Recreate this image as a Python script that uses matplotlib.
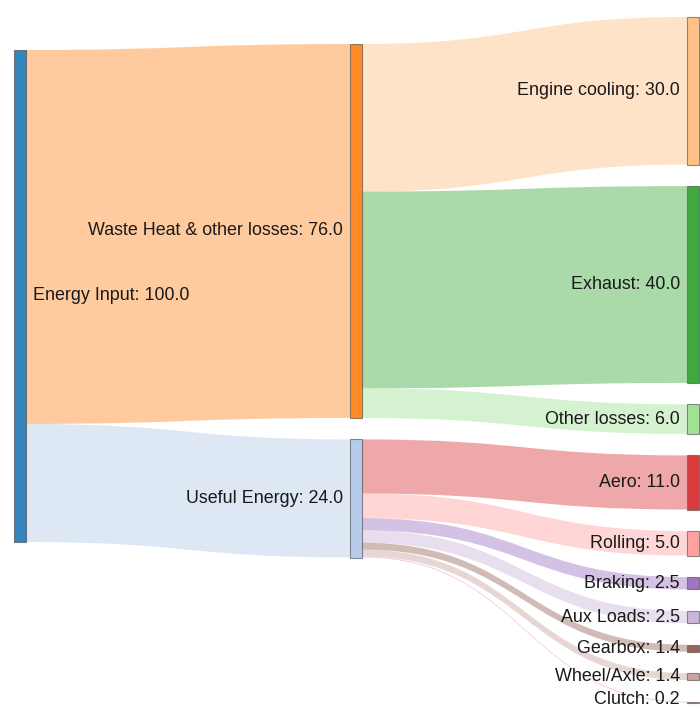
import numpy as np
import matplotlib.pyplot as plt
from matplotlib.patches import Rectangle, PathPatch
from matplotlib.path import Path
from matplotlib.colors import to_rgba

# Nodes, one list per column
col0 = ['Energy Input']
col1 = ['Waste Heat & other losses', 'Useful Energy']
col2 = ['Engine cooling', 'Exhaust', 'Other losses', 'Aero', 'Rolling',
        'Braking', 'Aux Loads', 'Gearbox', 'Wheel/Axle', 'Clutch']

# Links: source, target, value
sources = ['Energy Input', 'Energy Input',
           'Waste Heat & other losses', 'Waste Heat & other losses', 'Waste Heat & other losses',
           'Useful Energy', 'Useful Energy', 'Useful Energy', 'Useful Energy',
           'Useful Energy', 'Useful Energy', 'Useful Energy']
targets = ['Waste Heat & other losses', 'Useful Energy',
           'Engine cooling', 'Exhaust', 'Other losses',
           'Aero', 'Rolling', 'Braking', 'Aux Loads', 'Gearbox', 'Wheel/Axle', 'Clutch']
values = [76.0, 24.0, 30.0, 40.0, 6.0, 11.0, 5.0, 2.5, 2.5, 1.4, 1.4, 0.2]

colors = {
    'Energy Input': '#1f77b4', 'Waste Heat & other losses': '#ff7f0e',
    'Useful Energy': '#aec7e8', 'Engine cooling': '#ffbb78', 'Exhaust': '#2ca02c',
    'Other losses': '#98df8a', 'Aero': '#d62728', 'Rolling': '#ff9896',
    'Braking': '#9467bd', 'Aux Loads': '#c5b0d5', 'Gearbox': '#8c564b',
    'Wheel/Axle': '#c49c94', 'Clutch': '#e377c2',
}

# layout (pixels)
W, H = 700, 709
scale = 4.92        # px per unit
pad = 21.5
node_w = 12
col_x = [14, 350, 687]
col_top = [50, 44, 17]

# node value = max(inflow, outflow)
node_val = {}
for n in col0 + col1 + col2:
    inflow = sum(v for tt, v in zip(targets, values) if tt == n)
    outflow = sum(v for ss, v in zip(sources, values) if ss == n)
    node_val[n] = max(inflow, outflow)

pos = {}
for ci, col in enumerate([col0, col1, col2]):
    y = col_top[ci]
    for n in col:
        h = node_val[n] * scale
        pos[n] = (col_x[ci], y, h)
        y += h + pad

fig = plt.figure(figsize=(W / 100, H / 100), dpi=100)
ax = fig.add_axes([0, 0, 1, 1])
ax.set_xlim(0, W)
ax.set_ylim(H, 0)
ax.axis('off')

# links
out_off = {n: 0.0 for n in pos}
in_off = {n: 0.0 for n in pos}
for s, t, v in zip(sources, targets, values):
    sx, sy, _ = pos[s]
    tx, ty, _ = pos[t]
    h = v * scale
    x0 = sx + node_w
    x1 = tx
    y0 = sy + out_off[s]
    y1 = ty + in_off[t]
    out_off[s] += h
    in_off[t] += h
    xm = (x0 + x1) / 2
    verts = [(x0, y0), (xm, y0), (xm, y1), (x1, y1),
             (x1, y1 + h), (xm, y1 + h), (xm, y0 + h), (x0, y0 + h), (x0, y0)]
    codes = [Path.MOVETO, Path.CURVE4, Path.CURVE4, Path.CURVE4,
             Path.LINETO, Path.CURVE4, Path.CURVE4, Path.CURVE4, Path.CLOSEPOLY]
    ax.add_patch(PathPatch(Path(verts, codes), facecolor=to_rgba(colors[t], 0.4),
                           edgecolor='none', zorder=1))

# nodes and labels
for ci, col in enumerate([col0, col1, col2]):
    for n in col:
        x, y, h = pos[n]
        ax.add_patch(Rectangle((x, y), node_w, max(h, 1), facecolor=to_rgba(colors[n], 0.9),
                               edgecolor=(0.27, 0.27, 0.27, 0.6), linewidth=0.8, zorder=3))
        label = f'{n}: {node_val[n]:.1f}'
        ly = min(y + h / 2, H - 10)   # keep bottom label inside the figure
        if ci == 0:
            ax.text(x + node_w + 7, ly, label, ha='left', va='center',
                    fontsize=12.9, family='Liberation Sans', color='#1a1a1a', zorder=4)
        else:
            ax.text(x - 7, ly, label, ha='right', va='center',
                    fontsize=12.9, family='Liberation Sans', color='#1a1a1a', zorder=4)

fig.savefig('out.png', dpi=100)
